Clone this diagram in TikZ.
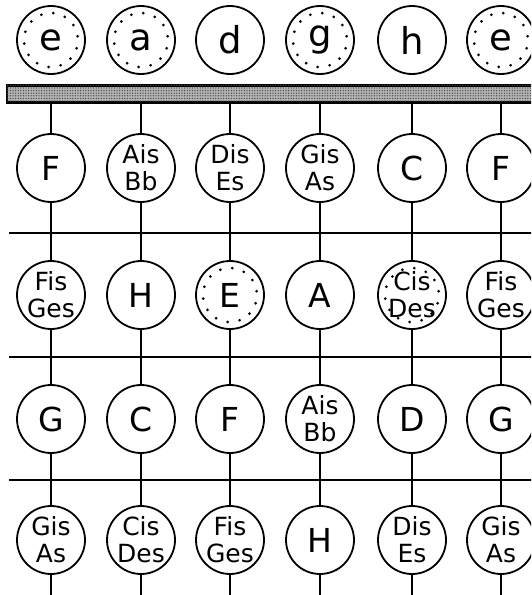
\documentclass[tikz,border=0pt]{standalone}
\usepackage{fontspec}
\setmainfont{DejaVu Sans}
\usetikzlibrary{calc,patterns.meta}
\begin{document}
\begin{tikzpicture}[x=1pt,y=-1pt,
  note/.style={circle, draw, line width=1.8pt, fill=white, minimum size=68pt, inner sep=0pt,
    font=\fontsize{33}{33}\selectfont},
  two/.style={note, align=center, font=\fontsize{25}{27}\selectfont},
  open/.style={note, font=\fontsize{37}{37}\selectfont},
  dotted fill/.style={path picture={
    \foreach \a in {0,25.7,...,340}{\fill[black] (path picture bounding box.center) ++(\a+8:27pt) circle (1.5pt);}}},
  stringline/.style={line width=2pt},
  fretline/.style={line width=2.2pt},
  nutbar/.style={rectangle, draw, line width=2.4pt, fill=black!30, minimum width=540pt, minimum height=17pt, inner sep=0pt,
    postaction={pattern={Dots[radius=0.7pt, distance=2.6pt]}, pattern color=black!70}}]
\path[use as bounding box] (0,0) rectangle (531,595);
\clip (0,0) rectangle (531,595);

% frets
\draw[fretline] (9,233) -- (540,233);
\draw[fretline] (9,357) -- (540,357);
\draw[fretline] (9,480) -- (540,480);

% nut
\node[nutbar] (nut) at (277,94) {};

% open strings
\node[open, dotted fill] (o1) at (51,40) {e};
\node[open, dotted fill] (o2) at (141,40) {a};
\node[open] (o3) at (230,40) {d};
\node[open, dotted fill] (o4) at (320,40) {g};
\node[open] (o5) at (412,40) {h};
\node[open, dotted fill] (o6) at (501,40) {e};

% row 1
\node[note] (n11) at (51,168) {F};
\node[two]  (n12) at (141,168) {Ais\\Bb};
\node[two]  (n13) at (230,168) {Dis\\Es};
\node[two]  (n14) at (320,168) {Gis\\As};
\node[note] (n15) at (412,168) {C};
\node[note] (n16) at (501,168) {F};

% row 2
\node[two]  (n21) at (51,295) {Fis\\Ges};
\node[note] (n22) at (141,295) {H};
\node[note, dotted fill] (n23) at (230,295) {E};
\node[note] (n24) at (320,295) {A};
\node[two, dotted fill] (n25) at (412,295) {Cis\\Des};
\node[two]  (n26) at (501,295) {Fis\\Ges};

% row 3
\node[note] (n31) at (51,419) {G};
\node[note] (n32) at (141,419) {C};
\node[note] (n33) at (230,419) {F};
\node[two]  (n34) at (320,419) {Ais\\Bb};
\node[note] (n35) at (412,419) {D};
\node[note] (n36) at (501,419) {G};

% row 4
\node[two]  (n41) at (51,540) {Gis\\As};
\node[two]  (n42) at (141,540) {Cis\\Des};
\node[two]  (n43) at (230,540) {Fis\\Ges};
\node[note] (n44) at (320,540) {H};
\node[two]  (n45) at (412,540) {Dis\\Es};
\node[two]  (n46) at (501,540) {Gis\\As};

% strings
\foreach \c in {1,...,6}{
  \coordinate (top\c) at (nut.south -| o\c);
  \coordinate (end\c) at ($(n4\c.center)+(0,57)$);
  \draw[stringline] (top\c) -- (n1\c);
  \draw[stringline] (n1\c) -- (n2\c);
  \draw[stringline] (n2\c) -- (n3\c);
  \draw[stringline] (n3\c) -- (n4\c);
  \draw[stringline] (n4\c) -- (end\c);
}
\end{tikzpicture}
\end{document}
